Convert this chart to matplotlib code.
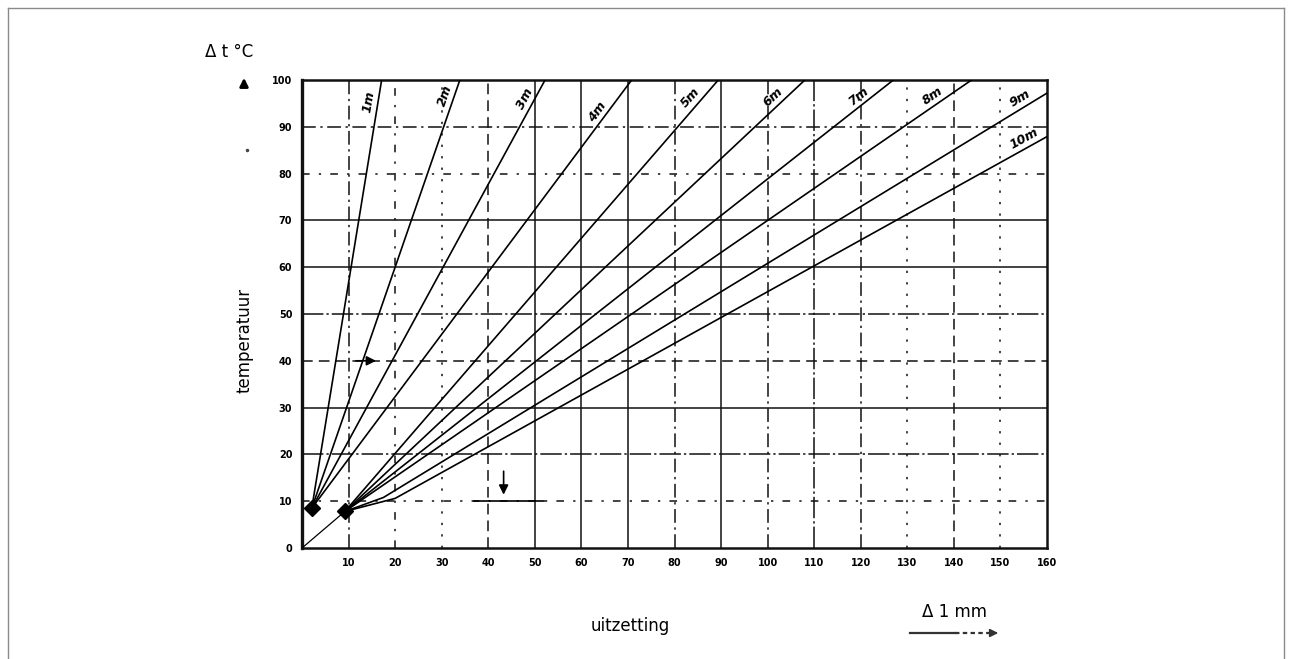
import numpy as np
import matplotlib.pyplot as plt
from matplotlib.lines import Line2D

W, H = 1292, 659

# expansion lines per pipe length (mm, degC)
# each line starts in one of the two clusters near the origin
lengths = ['1m', '2m', '3m', '4m', '5m', '6m', '7m', '8m', '9m', '10m']
line_x = [[2.1, 17.1], [2.1, 33.9], [2.1, 52.2], [2.1, 70.8], [9.2, 89.4],
          [9.2, 108.0], [9.2, 127.0], [9.2, 143.8], [9.2, 17.5, 160.0], [9.2, 20.0, 160.0]]
line_y = [[8.5, 100], [8.5, 100], [8.5, 100], [8.5, 100], [7.8, 100],
          [7.8, 100], [7.8, 100], [7.8, 100], [7.8, 10.8, 97.2], [7.8, 10.6, 87.9]]
label_frac = [0.95, 0.96, 0.95, 0.92, 0.95, 0.95, 0.95, 0.95, 0.97, 0.975]

x_ticks = [10, 20, 30, 40, 50, 60, 70, 80, 90, 100, 110, 120, 130, 140, 150, 160]
y_ticks = [0, 10, 20, 30, 40, 50, 60, 70, 80, 90, 100]

# the scanned grid is drawn with mixed line styles
x_grid = [10, 20, 30, 40, 50, 60, 70, 80, 90, 100, 110, 120, 130, 140, 150]
x_grid_style = ['dashdot', 'sparse', 'dotted', 'dashed', 'solid', 'solid', 'solid', 'dashdot',
                'solid', 'dashdot', 'longdash', 'dashdot', 'dotted', 'dashed', 'dotted']
y_grid = [10, 20, 30, 40, 50, 60, 70, 80, 90]
y_grid_style = ['sparse', 'longdash', 'solid', 'dashed', 'longdash', 'solid', 'solid', 'sparse', 'dashdot']

styles = {
    'solid': '-',
    'longdash': (0, (14, 2, 1.5, 2)),
    'dashdot': (0, (9, 3, 1.5, 3)),
    'dashed': (0, (7, 4)),
    'sparse': (0, (5, 6, 1.5, 6)),
    'dotted': (0, (1.5, 6)),
}

fig = plt.figure(figsize=(W / 100, H / 100), dpi=100)
ax = fig.add_axes([302 / W, 111 / H, 745 / W, 468 / H])
ax.set_xlim(0, 160)
ax.set_ylim(0, 100)

for xv, st in zip(x_grid, x_grid_style):
    ax.axvline(xv, color='#111111', lw=1.1, linestyle=styles[st], zorder=1)
for yv, st in zip(y_grid, y_grid_style):
    ax.axhline(yv, color='#111111', lw=1.1, linestyle=styles[st], zorder=1)

for sp in ax.spines.values():
    sp.set_linewidth(1.8)
    sp.set_color('#111111')
ax.spines['left'].set_linewidth(2.4)

ax.set_xticks(x_ticks)
ax.set_yticks(y_ticks)
ax.tick_params(length=0, pad=7, labelsize=7)
for lbl in ax.get_xticklabels() + ax.get_yticklabels():
    lbl.set_fontweight('bold')

# thin line from origin into the lower cluster
ax.plot([0, 9.2], [0, 7.8], color='black', lw=0.9, zorder=3)

for xs, ys in zip(line_x, line_y):
    ax.plot(xs, ys, color='black', lw=1.2, zorder=3)

# the two clusters where the lines meet
ax.plot([2.1, 9.2], [8.5, 7.8], 'D', color='black', ms=8, zorder=4, linestyle='none')

# labels along lines, just above them
fig.canvas.draw()
for name, xs, ys, f in zip(lengths, line_x, line_y, label_frac):
    ex, ey = xs[-1], ys[-1]
    p0 = ax.transData.transform((0, 0))
    p1 = ax.transData.transform((ex, ey))
    ang = np.degrees(np.arctan2(p1[1] - p0[1], p1[0] - p0[0]))
    nx, ny = -np.sin(np.radians(ang)) * 2, np.cos(np.radians(ang)) * 2
    ax.annotate(name, xy=(f * ex, f * ey), xytext=(nx, ny), textcoords='offset points',
                rotation=ang, rotation_mode='anchor', ha='center', va='bottom',
                fontsize=9, fontweight='bold', fontstyle='italic', zorder=5)

# reading example arrows
ax.annotate('', xy=(16.5, 40), xytext=(11, 40),
            arrowprops=dict(arrowstyle='-|>', color='black', lw=1.2, mutation_scale=14))
ax.annotate('', xy=(43.3, 10.8), xytext=(43.3, 17),
            arrowprops=dict(arrowstyle='-|>', color='black', lw=1.2, mutation_scale=14))
ax.plot([37, 52], [10, 10], color='black', lw=1.2)

# axis captions
fig.text(229 / W, 1 - 52 / H, 'Δ t °C', ha='center', va='center', fontsize=12)
fig.text(245 / W, 1 - 340 / H, 'temperatuur', ha='center', va='center', rotation=90, fontsize=12)
fig.text(630 / W, 1 - 626 / H, 'uitzetting', ha='center', va='center', fontsize=12)
fig.text(955 / W, 1 - 612 / H, 'Δ 1 mm', ha='center', va='center', fontsize=12)

# arrow under the unit
fig.add_artist(Line2D([910 / W, 955 / W], [1 - 633 / H, 1 - 633 / H], color='#333333', lw=1.6))
fig.add_artist(Line2D([955 / W, 990 / W], [1 - 633 / H, 1 - 633 / H], color='#333333', lw=1.6,
                      linestyle=(0, (2, 1.5))))
ax.annotate('', xy=(1001 / W, 1 - 633 / H), xytext=(988 / W, 1 - 633 / H), xycoords='figure fraction',
            arrowprops=dict(arrowstyle='-|>', color='#333333', lw=1.2, mutation_scale=12))

# small arrow on top of the y axis, and a speck below it
ax.annotate('', xy=(244 / W, 1 - 75 / H), xytext=(244 / W, 1 - 88 / H), xycoords='figure fraction',
            arrowprops=dict(arrowstyle='-|>', color='black', lw=2, mutation_scale=12))
fig.add_artist(Line2D([247 / W], [1 - 150 / H], marker='o', ms=1.5, color='#444444'))

# page frame
for xs, ys in [([8, 8], [8, H + 5]), ([8, 1284], [8, 8]), ([1284, 1284], [8, H + 5])]:
    fig.add_artist(Line2D([v / W for v in xs], [1 - v / H for v in ys], color='#8a8a8a', lw=1.0))

fig.savefig('out.png', dpi=100)
